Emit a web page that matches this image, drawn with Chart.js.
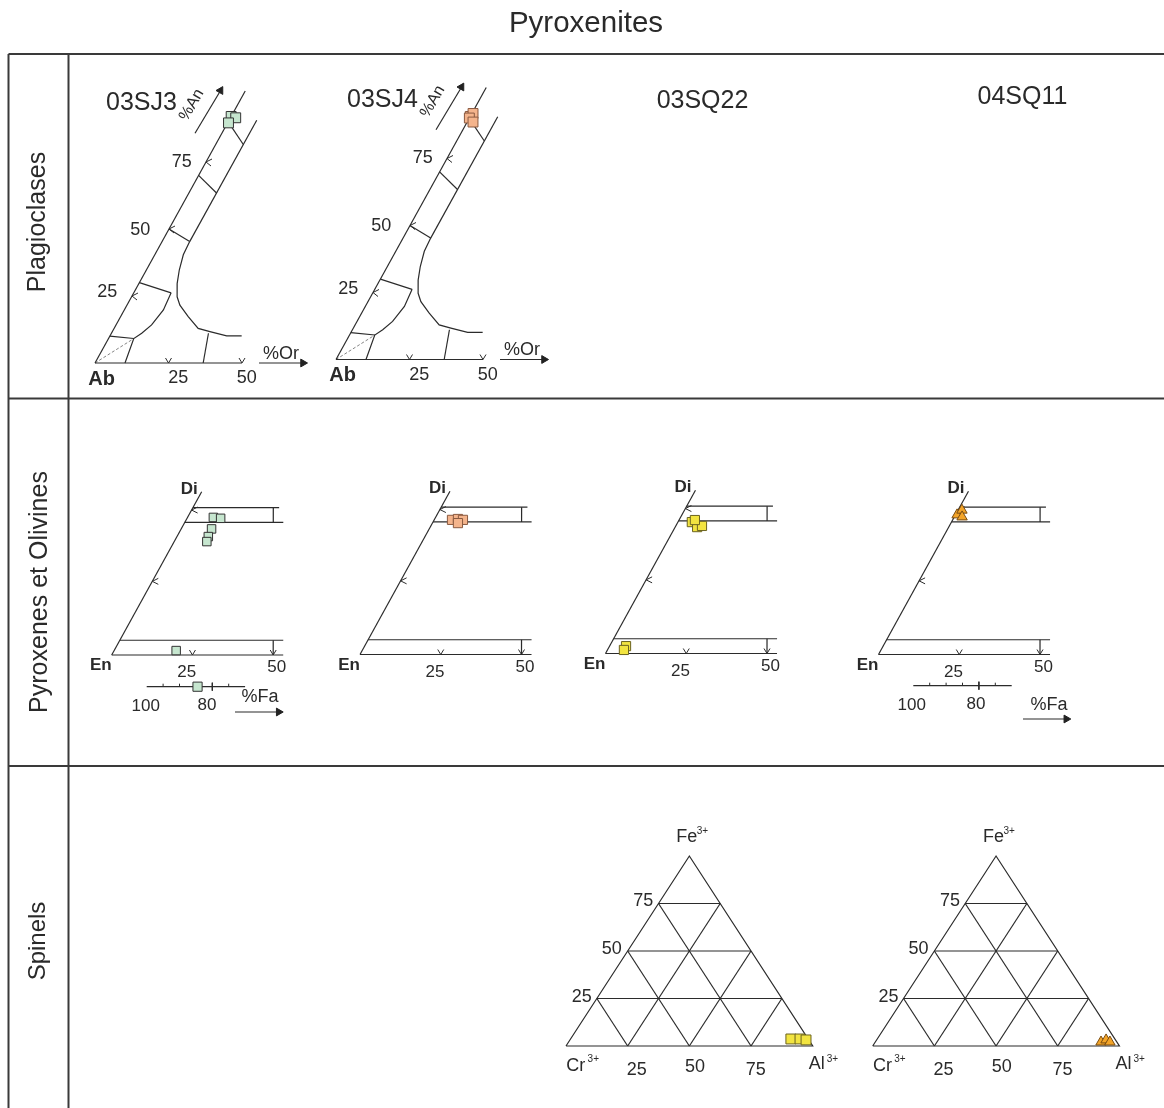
<!DOCTYPE html>
<html>
<head>
<meta charset="utf-8">
<script src="https://cdn.jsdelivr.net/npm/chart.js@4.4.0/dist/chart.umd.min.js"></script>
<style>
html, body { margin: 0; background: #fff; }
canvas { display: block; }
</style>
</head>
<body>
<canvas id="fig" width="1164" height="1108"></canvas>
<script>
// values
const samples = ['03SJ3', '03SJ4', '03SQ22', '04SQ11'];
const rowTitles = ['Plagioclases', 'Pyroxenes et Olivines', 'Spinels'];
const pctTicks = [25, 50, 75];
const olTicks = [100, 80];

// plagioclases (%An, %Or)
const sj3An = [92.0, 91.5, 89.6];
const sj3Or = [0.0, 1.8, 0.3];
const sj4An = [90.7, 91.8, 90.1, 88.6];
const sj4Or = [0.0, 0.4, 0.0, 2.0];

// pyroxenes (%Wo, %Fs)
const sj3Wo = [46.7, 46.4, 42.8, 40.2, 38.5, 1.5];
const sj3Fs = [8.0, 10.4, 9.4, 9.7, 10.1, 19.2];
const sj4Wo = [45.7, 46.0, 45.7, 44.6];
const sj4Fs = [5.5, 7.2, 8.9, 7.9];
const sq22Wo = [44.6, 42.9, 43.3, 45.3, 2.5, 1.2];
const sq22Fs = [4.3, 6.8, 8.1, 4.9, 5.1, 5.1];
const sq11Wo = [47.4, 49.0, 46.7];
const sq11Fs = [0.5, 1.2, 2.4];

// olivine (%Fo)
const sj3Fo = [84.5];

// spinels (%Al, %Fe3+)
const sq22Al = [89.3, 93.0, 95.7];
const sq22Fe = [3.7, 3.7, 3.2];
const sq11Al = [91.5, 93.0, 95.1];
const sq11Fe = [2.1, 3.2, 2.1];

const W = 1164, H = 1108;
const ink = '#2b2b2b';
const font = '"Liberation Sans", Arial, sans-serif';

const datasets = [];
const labels = [];

function line(pts, extra) {
  datasets.push(Object.assign({
    data: pts, showLine: true, pointRadius: 0, borderColor: ink,
    borderWidth: 1.2, fill: false, order: 2
  }, extra || {}));
}
function marks(pts, style, fill, stroke, r) {
  datasets.push({
    data: pts, showLine: false, pointStyle: style, pointRadius: r,
    pointBackgroundColor: fill, pointBorderColor: stroke, pointBorderWidth: 1, order: 0
  });
}
function head(p, rot) {
  datasets.push({
    data: [p], showLine: false, pointStyle: 'triangle', pointRotation: rot, pointRadius: 4.5,
    pointBackgroundColor: '#222', pointBorderColor: '#222', pointBorderWidth: 1, order: 1
  });
}
function chev(p, a, b) {
  line([{ x: p.x + a[0], y: p.y + a[1] }, p, { x: p.x + b[0], y: p.y + b[1] }], { borderWidth: 1 });
}
function txt(t, x, y, size, o) {
  labels.push(Object.assign({ t: t, x: x, y: y, size: size }, o || {}));
}
const off = (o, dx, dy) => ({ x: o.x + dx, y: o.y + dy });

// ternary -> page coordinates
const plagPt = (o, or, an) => ({ x: o.x + or * 2.94 + an * 1.48, y: o.y - an * 2.68 });
const pyxPt = (o, wo, fs) => ({ x: o.x + fs * 3.23 + wo * 1.624, y: o.y - wo * 2.946 });
const splPt = (o, al, fe) => ({ x: o.x + al * 2.467 + fe * 1.2335, y: o.y - fe * 1.9 });
const olvPt = (o, fo) => ({ x: o.x + (100 - fo) * 3.28, y: o.y });

// outer table
const rule = { borderWidth: 2, borderColor: '#3a3a3a' };
line([{ x: 8.5, y: 54 }, { x: W, y: 54 }], rule);
line([{ x: 8.5, y: 398.5 }, { x: W, y: 398.5 }], rule);
line([{ x: 8.5, y: 766 }, { x: W, y: 766 }], rule);
line([{ x: 8.5, y: 54 }, { x: 8.5, y: H }], rule);
line([{ x: 68.5, y: 54 }, { x: 68.5, y: H }], rule);

txt('Pyroxenites', 586, 24, 29.5);
txt(rowTitles[0], 38, 222, 25, { rot: -90 });
txt(rowTitles[1], 40, 592, 25, { rot: -90 });
txt(rowTitles[2], 38, 941, 24, { rot: -90 });

// plagioclase panels
function plagFrame(o, name) {
  const P = (or, an) => plagPt(o, or, an);
  line([P(0, 0), P(0, 101.5)]);
  line([P(0, 0), P(50, 0)]);
  [[10, 8.6], [30, 12.7], [50, 9.4], [70, 9.4], [90, 9.4]].forEach(([a, e]) =>
    line([P(0, a), P(e, a * (1 - e / 100))]));
  line([P(9.4, 45.3), P(9.4, 90.6)]);
  line([P(9.4, 45.3), P(9.7, 40.4), P(11.2, 34.7), P(13.0, 29.7), P(15.5, 24.7), P(18.0, 21.6),
        P(23.0, 17.3), P(28.6, 12.9), P(33.2, 11.7), P(39.7, 10.1), P(44.8, 10.1)]);
  line([P(12.7, 26.2), P(13.3, 19.8), P(12.1, 14.2), P(10.3, 11.1), P(8.6, 9.1), P(10.2, 0)]);
  line([P(0, 0), P(8.6, 9.1)], { borderDash: [3, 2], borderWidth: 0.8, borderColor: '#666' });
  line([P(33.0, 11.1), P(36.8, 0)]);
  pctTicks.forEach(v => chev(P(0, v), [6, -3], [5, 4]));
  [25, 50].forEach(v => chev(P(v, 0), [-3, -5], [3, -5]));
  // %An and %Or arrows
  line([off(o, 100, -229.7), off(o, 125, -271.5)]);
  head(off(o, 125.5, -272.5), 30);
  line([off(o, 164, 0), off(o, 207, 0)]);
  head(off(o, 208, 0), 90);

  txt(name, o.x + 46.5, o.y - 259.5, 25);
  txt('%An', o.x + 96.7, o.y - 258, 16, { rot: -60 });
  txt('75', o.x + 86.7, o.y - 201.3, 18);
  txt('50', o.x + 45.3, o.y - 133, 18);
  txt('25', o.x + 12.2, o.y - 70.5, 18);
  txt('Ab', o.x + 6.7, o.y + 16, 20, { bold: true });
  txt('25', o.x + 83.3, o.y + 15.3, 18);
  txt('50', o.x + 151.7, o.y + 15.3, 18);
  txt('%Or', o.x + 186, o.y - 9, 18);
}
const plagO = [{ x: 95, y: 363 }, { x: 336, y: 359.5 }];
plagFrame(plagO[0], samples[0]);
plagFrame(plagO[1], samples[1]);
txt(samples[2], 702.5, 101, 25);
txt(samples[3], 1022.5, 97, 25);

marks(sj3An.map((a, i) => plagPt(plagO[0], sj3Or[i], a)), 'rect', '#c6e6cf', '#333', 7);
marks(sj4An.map((a, i) => plagPt(plagO[1], sj4Or[i], a)), 'rect', '#f4b48c', '#8a5a40', 7);

// pyroxene panels
function pyxFrame(o) {
  const P = (wo, fs) => pyxPt(o, wo, fs);
  line([P(0, 0), P(55.4, 0)]);
  line([P(50, 0), P(50, 26.7)]);
  line([P(45, 0), P(45, 30.5)]);
  line([P(50, 24.9), P(45, 27.4)]);
  line([P(5, 0), P(5, 50.6)]);
  line([P(0, 0), P(0, 53.1)]);
  line([P(5, 47.5), P(0, 50)]);
  chev(P(0, 50), [-3, -5], [3, -5]);
  chev(P(0, 25), [-3, -5], [3, -5]);
  chev(P(25, 0), [6, -3], [6, 3]);
  chev(P(49.2, 0), [6, -3], [6, 3]);
  txt('En', o.x - 10.9, o.y + 10.8, 17, { bold: true });
  txt('Di', o.x + 77.5, o.y - 165.8, 17, { bold: true });
  txt('25', o.x + 75, o.y + 17.5, 17);
  txt('50', o.x + 165, o.y + 12.5, 17);
}
const pyxO = [{ x: 111.7, y: 655 }, { x: 360, y: 654.5 }, { x: 605.5, y: 653.5 }, { x: 878.5, y: 654.5 }];
pyxO.forEach(pyxFrame);

marks(sj3Wo.map((w, i) => pyxPt(pyxO[0], w, sj3Fs[i])), 'rect', '#c6e6cf', '#333', 6);
marks(sj4Wo.map((w, i) => pyxPt(pyxO[1], w, sj4Fs[i])), 'rect', '#f4b48c', '#8a5a40', 6.5);
marks(sq22Wo.map((w, i) => pyxPt(pyxO[2], w, sq22Fs[i])), 'rect', '#f2e440', '#6b6320', 6.5);
marks(sq11Wo.map((w, i) => pyxPt(pyxO[3], w, sq11Fs[i])), 'triangle', '#f3a428', '#7a4c10', 6);

// olivine scales
function olvFrame(o, fa) {
  const P = fo => olvPt(o, fo);
  line([P(100), P(70)]);
  [95, 90, 85, 75].forEach(f => line([P(f), { x: P(f).x, y: o.y - 3 }], { borderWidth: 1 }));
  line([{ x: P(80).x, y: o.y - 4 }, { x: P(80).x, y: o.y + 4 }], { borderWidth: 1 });
  txt(String(olTicks[0]), o.x + fa.l100, o.y + 19.5, 17);
  txt(String(olTicks[1]), o.x + fa.l80, o.y + 19, 17);
  txt('%Fa', o.x + fa.tx, o.y + fa.ty, 18);
  line([off(o, fa.ax0, fa.ay), off(o, fa.ax1, fa.ay)]);
  head(off(o, fa.ax1 + 1, fa.ay), 90);
}
const olvO = [{ x: 146.7, y: 686.7 }, { x: 913.3, y: 685.7 }];
olvFrame(olvO[0], { l100: -0.9, l80: 60.3, tx: 113.3, ty: 10, ax0: 88.3, ax1: 131, ay: 25.3 });
olvFrame(olvO[1], { l100: -1.6, l80: 62.7, tx: 135.7, ty: 19.3, ax0: 109.7, ax1: 152, ay: 33.3 });
marks(sj3Fo.map(f => olvPt(olvO[0], f)), 'rect', '#c6e6cf', '#333', 6.5);

// spinel panels
function splFrame(o) {
  const P = (al, fe) => splPt(o, al, fe);
  line([P(0, 0), P(100, 0), P(0, 100), P(0, 0)]);
  pctTicks.forEach(v => {
    line([P(0, v), P(100 - v, v)]);
    line([P(v, 0), P(v, 100 - v)]);
    line([P(100 - v, 0), P(0, 100 - v)]);
  });
  txt('Fe', o.x + 120.7, o.y - 208.5, 18);
  txt('3+', o.x + 136.5, o.y - 214.5, 10);
  txt('75', o.x + 77.3, o.y - 145.2, 18);
  txt('50', o.x + 45.7, o.y - 97, 18);
  txt('25', o.x + 15.7, o.y - 48.5, 18);
  txt('Cr', o.x + 9.8, o.y + 19.8, 18);
  txt('3+', o.x + 27.3, o.y + 13, 10);
  txt('25', o.x + 70.7, o.y + 24, 18);
  txt('50', o.x + 129, o.y + 21.5, 18);
  txt('75', o.x + 189.8, o.y + 24, 18);
  txt('Al', o.x + 250.7, o.y + 18.2, 18);
  txt('3+', o.x + 266.5, o.y + 13, 10);
}
const splO = [{ x: 566, y: 1046 }, { x: 872.7, y: 1046 }];
splO.forEach(splFrame);
marks(sq22Al.map((a, i) => splPt(splO[0], a, sq22Fe[i])), 'rect', '#f2e440', '#6b6320', 7);
marks(sq11Al.map((a, i) => splPt(splO[1], a, sq11Fe[i])), 'triangle', '#f3a428', '#7a4c10', 6);

const textLayer = {
  id: 'textLayer',
  afterDraw(chart) {
    const c = chart.ctx, sx = chart.scales.x, sy = chart.scales.y;
    labels.forEach(l => {
      c.save();
      c.translate(sx.getPixelForValue(l.x), sy.getPixelForValue(l.y));
      if (l.rot) c.rotate(l.rot * Math.PI / 180);
      c.font = (l.bold ? 'bold ' : '') + l.size + 'px ' + font;
      c.fillStyle = '#2a2a2a';
      c.textAlign = 'center';
      c.textBaseline = 'middle';
      c.fillText(l.t, 0, 0);
      c.restore();
    });
  }
};

new Chart(document.getElementById('fig').getContext('2d'), {
  type: 'scatter',
  data: { datasets: datasets },
  options: {
    responsive: false,
    animation: false,
    events: [],
    clip: false,
    layout: { padding: 0, autoPadding: false },
    plugins: { legend: { display: false }, tooltip: { enabled: false } },
    scales: {
      x: { type: 'linear', min: 0, max: W, display: false },
      y: { type: 'linear', min: 0, max: H, reverse: true, display: false }
    }
  },
  plugins: [textLayer]
});
</script>
</body>
</html>
